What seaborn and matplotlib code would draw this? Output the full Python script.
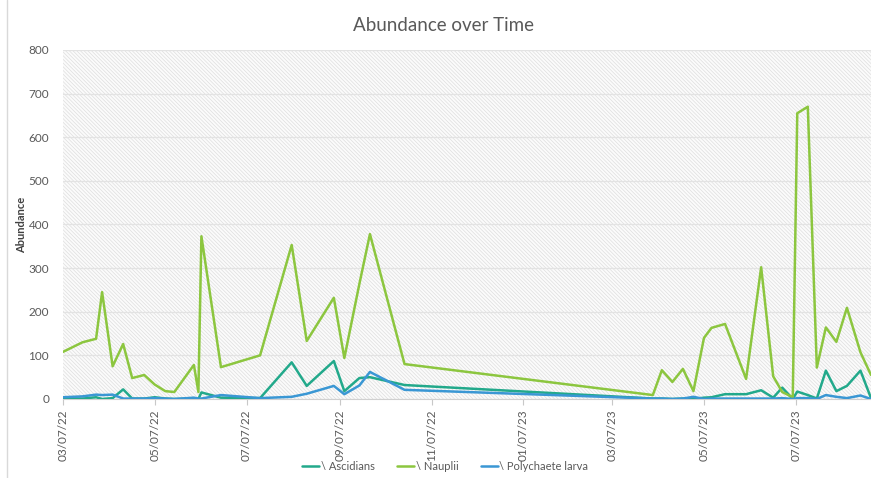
import matplotlib
matplotlib.use('Agg')
import matplotlib.pyplot as plt
import matplotlib.dates as mdates
from matplotlib.patches import Rectangle
from matplotlib.lines import Line2D
import pandas as pd
import seaborn as sns

dates = ['2022-03-07', '2022-03-20', '2022-03-29', '2022-04-02', '2022-04-09',
         '2022-04-16', '2022-04-22', '2022-04-30', '2022-05-07', '2022-05-14',
         '2022-05-20', '2022-06-02', '2022-06-05', '2022-06-07', '2022-06-20',
         '2022-07-16', '2022-08-06', '2022-08-16', '2022-09-03', '2022-09-10',
         '2022-09-20', '2022-09-27', '2022-10-20', '2023-04-03', '2023-04-09',
         '2023-04-16', '2023-04-23', '2023-04-30', '2023-05-07', '2023-05-12',
         '2023-05-21', '2023-06-04', '2023-06-14', '2023-06-22', '2023-06-28',
         '2023-07-05', '2023-07-08', '2023-07-15', '2023-07-21', '2023-07-27',
         '2023-08-03', '2023-08-10', '2023-08-19', '2023-08-26']

ascidians = [2, 1, 4, 0, 2, 22, 1, 1, 4, 1,
             0, 1, 0, 15, 3, 2, 84, 30, 87, 18,
             48, 50, 32, 1, 1, 0, 1, 0, 3, 4,
             11, 11, 20, 3, 26, 0, 17, 9, 1, 65,
             18, 30, 65, 2]

nauplii = [108, 130, 138, 245, 75, 126, 48, 55, 33, 18,
           16, 78, 16, 373, 73, 100, 353, 133, 232, 94,
           264, 378, 80, 9, 66, 39, 69, 18, 140, 163,
           172, 46, 302, 52, 16, 4, 655, 670, 72, 164,
           131, 209, 107, 55]

polychaete = [4, 6, 10, 9, 10, 1, 1, 1, 2, 1,
              0, 3, 1, 1, 9, 2, 5, 12, 30, 11,
              31, 62, 21, 1, 1, 0, 1, 5, 0, 1,
              1, 1, 1, 1, 2, 0, 2, 2, 0, 9,
              5, 2, 8, 0]

series_names = ['\\ Ascidians', '\\ Nauplii', '\\ Polychaete larva']
colors = ['#22a98b', '#8cc63f', '#3a97d4']

df = pd.DataFrame({
    'date': pd.to_datetime(dates * 3),
    'value': ascidians + nauplii + polychaete,
    'taxon': [series_names[0]] * len(dates) + [series_names[1]] * len(dates)
             + [series_names[2]] * len(dates),
})

sns.set_style('white')
plt.rcParams['font.family'] = ['Lato', 'DejaVu Sans']
plt.rcParams['hatch.linewidth'] = 0.5

fig = plt.figure(figsize=(8.71, 4.78), dpi=100)
ax = fig.add_axes([0.0723, 0.1653, 0.9277, 0.7301])

# hatched plot area like the Excel pattern fill
ax.add_patch(Rectangle((0, 0), 1, 1, transform=ax.transAxes, facecolor='#fbfbfb',
                       edgecolor='#dedede', hatch='\\' * 9, lw=0, zorder=0))

sns.lineplot(data=df, x='date', y='value', hue='taxon', hue_order=series_names,
             palette=colors, linewidth=1.8, ax=ax, legend=False, zorder=3)

ax.set_ylim(0, 800)
ax.set_yticks(range(0, 801, 100))
ax.set_xlim(pd.Timestamp('2022-03-07'), pd.Timestamp('2023-08-26'))
ax.xaxis.set_major_locator(mdates.MonthLocator(bymonth=[1, 3, 5, 7, 9, 11], bymonthday=7))
ax.xaxis.set_major_formatter(mdates.DateFormatter('%m/%d/%y'))
plt.setp(ax.get_xticklabels(), rotation=90)

ax.grid(axis='y', color='#e3e3e3', lw=0.9, zorder=1)
ax.set_axisbelow(True)
for s in ['top', 'right', 'left']:
    ax.spines[s].set_visible(False)
ax.spines['bottom'].set_color('#d0d0d0')
ax.tick_params(axis='x', colors='#595959', labelsize=8.5, length=4, width=0.8,
               bottom=True, direction='out')
ax.tick_params(axis='x', color='#c8c8c8')
ax.tick_params(axis='y', colors='#595959', labelsize=8.5, length=0, pad=10)

ax.set_xlabel('')
ax.set_ylabel('Abundance', fontsize=8, fontweight='bold', color='#404040')
ax.yaxis.set_label_coords(-36 / 807, 0.5)

fig.text(0.509, 0.947, 'Abundance over Time', ha='center', va='center',
         fontsize=13.5, color='#595959')

handles = [Line2D([], [], color=c, lw=1.8) for c in colors]
fig.legend(handles, series_names, loc='center', bbox_to_anchor=(0.511, 1 - 466 / 478),
           ncol=3, frameon=False, fontsize=8, handlelength=1.6, handletextpad=0.1,
           columnspacing=2.0, labelcolor='#595959')

# left edge of the chart border
fig.add_artist(Line2D([7 / 871, 7 / 871], [0, 1], color='#d9d9d9', lw=1,
                      transform=fig.transFigure))

fig.savefig('out.png', dpi=100)
